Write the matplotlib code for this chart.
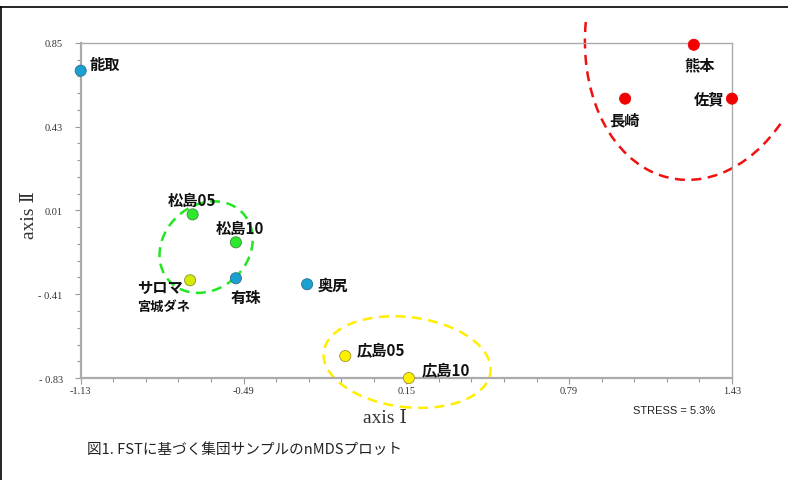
import matplotlib
matplotlib.use("Agg")
import matplotlib.pyplot as plt
from matplotlib import patches, transforms
from matplotlib.lines import Line2D
from matplotlib.ticker import FixedLocator, FixedFormatter, AutoMinorLocator

plt.rcParams['font.family'] = ['Noto Sans CJK JP', 'DejaVu Sans']

# nMDS coordinates of each population sample
names = ['能取', '松島05', '松島10', 'サロマ', '有珠', '奥尻',
         '広島05', '広島10', '熊本', '長崎', '佐賀']
axis1 = [-1.13, -0.69, -0.52, -0.70, -0.52, -0.24, -0.09, 0.16, 1.28, 1.01, 1.43]
axis2 = [0.71, -0.01, -0.15, -0.34, -0.33, -0.36, -0.72, -0.83, 0.84, 0.57, 0.57]
fills = ['#1ba0d2', '#2ee82e', '#2ee82e', '#d4ec00', '#1ba0d2', '#1ba0d2',
         '#fff000', '#fff000', '#f00000', '#f00000', '#f00000']
edges = ['#2d6f8c', '#3c8c3c', '#3c8c3c', '#8c8c3c', '#2d6f8c', '#2d6f8c',
         '#9c9030', '#9c9030', '#f00000', '#f00000', '#f00000']

# label offsets in pixels and horizontal alignment
offsets = [(9, 7), (-1, 14), (4, 14), (-53, -7), (10, -19), (10, 0),
           (11, 7), (13, 9), (6, -20), (-1, -21), (-8, 0)]
aligns = ['left', 'center', 'center', 'left', 'center', 'left',
          'left', 'left', 'center', 'center', 'right']

xticks = [-1.13, -0.49, 0.15, 0.79, 1.43]
xticklabels = ['-1.13', '-0.49', '0.15', '0.79', '1.43']
yticks = [-0.83, -0.41, 0.01, 0.43, 0.85]
yticklabels = ['- 0.83', '- 0.41', '0.01', '0.43', '0.85']

fig = plt.figure(figsize=(7.88, 4.81), dpi=100)
ax = fig.add_axes([0.1024, 0.212, 0.8265, 0.697])
ax.set_xlim(-1.13, 1.43)
ax.set_ylim(-0.83, 0.85)

ax.scatter(axis1, axis2, s=64, c=fills, edgecolors=edges, linewidths=0.6,
           zorder=5, clip_on=False)

for name, x, y, off, ha in zip(names, axis1, axis2, offsets, aligns):
    ax.annotate(name, (x, y), xytext=off, textcoords='offset pixels',
                ha=ha, va='center', fontsize=11, fontweight='bold',
                color='#111111', zorder=6, annotation_clip=False)
ax.annotate('宮城ダネ', (axis1[3], axis2[3]), xytext=(-53, -26),
            textcoords='offset pixels', ha='left', va='center', fontsize=9.5,
            fontweight='bold', color='#111111')


def px_at(x, y):
    # pixel-sized shapes anchored on a data point
    return (transforms.Affine2D().scale(1 / 100) + fig.dpi_scale_trans
            + transforms.ScaledTranslation(x, y, ax.transData))


# dashed group outlines
dash = (0, (4, 2.6))
ax.add_patch(patches.Ellipse((0, 0), 100, 84, angle=42, fill=False,
                             edgecolor='#22e622', lw=1.8, linestyle=dash,
                             transform=px_at(-0.637, -0.174), clip_on=False))
ax.add_patch(patches.Ellipse((0, 0), 168, 90, angle=-7, fill=False,
                             edgecolor='#ffee00', lw=1.8, linestyle=dash,
                             transform=px_at(0.153, -0.750), clip_on=False))
ax.add_patch(patches.Arc((0, 0), 228, 314, angle=-10, theta1=189, theta2=321,
                         edgecolor='#f01010', lw=1.8, linestyle=dash,
                         transform=px_at(1.306, 0.944), clip_on=False))

for side in ['left', 'bottom']:
    ax.spines[side].set_linewidth(1.6)
for side in ['top', 'right']:
    ax.spines[side].set_linewidth(1.0)
for sp in ax.spines.values():
    sp.set_color('#ababab')

ax.xaxis.set_major_locator(FixedLocator(xticks))
ax.xaxis.set_major_formatter(FixedFormatter(xticklabels))
ax.yaxis.set_major_locator(FixedLocator(yticks))
ax.yaxis.set_major_formatter(FixedFormatter(yticklabels))
ax.xaxis.set_minor_locator(AutoMinorLocator(5))
ax.yaxis.set_minor_locator(AutoMinorLocator(5))
ax.tick_params(which='both', direction='out', color='#999999', width=0.8)
ax.tick_params(which='major', length=4)
ax.tick_params(which='minor', length=3)
ax.tick_params(axis='x', pad=2)
ax.tick_params(axis='y', pad=9)
for lab in ax.get_xticklabels() + ax.get_yticklabels():
    lab.set_family(['Liberation Serif', 'DejaVu Serif'])
    lab.set_fontsize(7.5)
    lab.set_color('#333333')

serif = ['Liberation Serif', 'DejaVu Serif', 'Noto Sans CJK JP']
fig.text(385 / 788, 1 - 419 / 481, 'axis Ⅰ', family=serif, fontsize=14,
         color='#333333', ha='center', va='center')
fig.text(29 / 788, 1 - 215 / 481, 'axis Ⅱ', family=serif, fontsize=14,
         color='#333333', ha='center', va='center', rotation=90)
fig.text(633 / 788, 1 - 411 / 481, 'STRESS = 5.3%', family='Liberation Sans',
         fontsize=8, color='#222222', ha='left', va='center')
fig.text(87 / 788, 1 - 450 / 481, '図1. FSTに基づく集団サンプルのnMDSプロット',
         fontsize=10.5, color='#222222', ha='left', va='center')

# page frame lines
fig.add_artist(Line2D([0, 1], [1 - 8 / 481, 1 - 8 / 481], color='black', lw=1.2))
fig.add_artist(Line2D([1 / 788, 1 / 788], [0, 1 - 8 / 481], color='black', lw=1.2))

fig.savefig('out.png', dpi=100)
